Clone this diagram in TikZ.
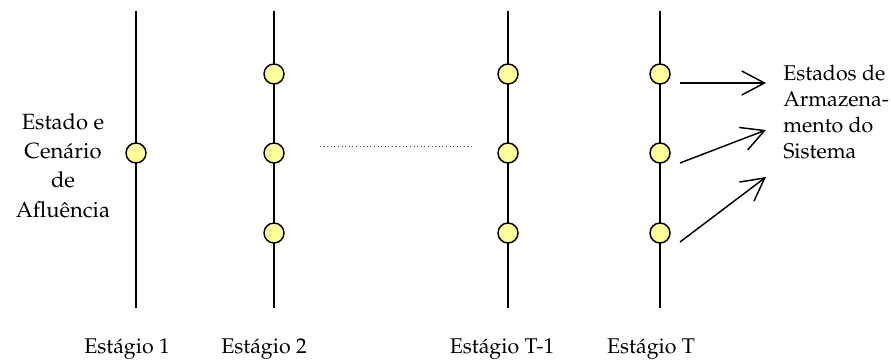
\documentclass[tikz,border=0pt]{standalone}
\usepackage[T1]{fontenc}
\usepackage{mathpazo}
\usepackage{tikz}
\usetikzlibrary{arrows.meta}
\definecolor{Estado}{HTML}{FFFF99}

\tikzset{
  estagio/.style={line width=1.5pt},
  estado/.style={circle,draw,line width=1.1pt,fill=Estado,minimum size=15pt,inner sep=0pt},
  seta/.style={line width=1.1pt,-{Straight Barb[length=17pt,width=18pt,line width=1.1pt]}},
  rotulo/.style={font=\fontsize{16}{20}\selectfont,anchor=base,inner sep=0pt}
}

\begin{document}
\begin{tikzpicture}[x=.75pt,y=-.75pt]
  \useasboundingbox (0,0) rectangle (891,360);
  % linhas dos estagios
  \foreach \x/\n in {136/1,274/2,508/3,660/4}{
    \coordinate (top\n) at (\x,10.7);
    \coordinate (bot\n) at (\x,308);
    \draw[estagio] (top\n) -- (bot\n);
  }
  % estados
  \node[estado] (e1b) at (136,153) {};
  \foreach \n/\x in {2/274,3/508,4/660}{
    \node[estado] (e\n a) at (\x,74) {};
    \node[estado] (e\n b) at (\x,153) {};
    \node[estado] (e\n c) at (\x,233) {};
  }
  % estagios intermediarios
  \coordinate (pa) at (320,146);
  \coordinate (pb) at (472,146);
  \draw[dotted,line width=.7pt,black!70] (pa) -- (pb);
  % setas para os estados de armazenamento
  \coordinate (s1) at (680,83);  \coordinate (t1) at (766,83);
  \coordinate (s2) at (680,163); \coordinate (t2) at (766,130);
  \coordinate (s3) at (680,242); \coordinate (t3) at (766,177);
  \foreach \i in {1,2,3}
    \draw[seta] (s\i) -- (t\i);
  % textos (base = ultima linha)
  \node[rotulo,align=center,font=\fontsize{16.5}{22}\selectfont] (afl) at (63,217)
    {Estado e\\Cenário\\de\\Afluência};
  \node[rotulo,align=left,anchor=base west,font=\fontsize{16}{19.5}\selectfont] (arm) at (783,158)
    {Estados de\\Armazena-\\mento do\\Sistema};
  \node[rotulo] (l1) at (127,353) {Estágio 1};
  \node[rotulo] (l2) at (264,353) {Estágio 2};
  \node[rotulo] (l3) at (502,353) {Estágio T-1};
  \node[rotulo] (l4) at (651,353) {Estágio T};
\end{tikzpicture}
\end{document}
